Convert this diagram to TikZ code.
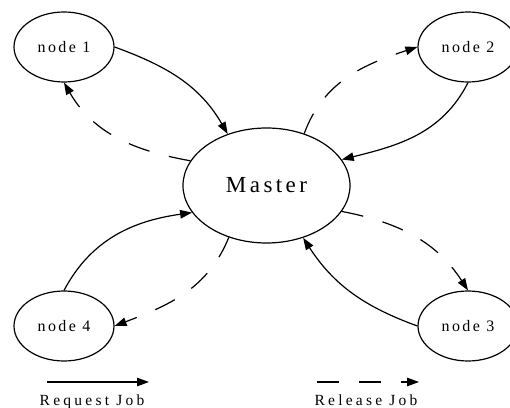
\documentclass[tikz,border=0pt]{standalone}
\usepackage{fontspec}
\setmainfont{Liberation Serif}[LetterSpace=15]
\usepackage{tikz}
\usetikzlibrary{arrows.meta, positioning, shapes.geometric}

\begin{document}
\begin{tikzpicture}[
    x=1pt, y=1pt,
    simpul/.style={draw, ellipse, line width=1.2pt, inner sep=0pt,
                   minimum width=100pt, minimum height=70pt, font=\fontsize{16}{18}\selectfont},
    induk/.style={simpul, minimum width=167pt, minimum height=115pt,
                  font=\fontsize{23}{26}\selectfont},
    minta/.style={-{Triangle[length=12pt, width=8.5pt]}, line width=1.2pt},
    lepas/.style={minta, dash pattern=on 22pt off 20pt},
    ket/.style={anchor=base, font=\fontsize{15.5}{17}\selectfont\addfontfeature{LetterSpace=21}}
  ]
    \useasboundingbox (0,0) rectangle (510,407);

    \node[induk] (master) at (266.5,221.5) {Master};
    \node[simpul] (node1) at (64,360) {node 1};
    \node[simpul] (node2) at (468,360) {node 2};
    \node[simpul] (node3) at (468,81) {node 3};
    \node[simpul] (node4) at (64,81) {node 4};

    \draw[minta] (node1.east) to[out=-20, in=120] (master.127);
    \draw[lepas] (master.162) to[out=170, in=-60] (node1.south);
    \draw[minta] (node2.south) to[out=-117, in=14] (master.19);
    \draw[lepas] (master.54) to[out=70, in=198] (node2.west);
    \draw[lepas] (master.-19) to[out=-11, in=123] (node3.north);
    \draw[minta] (node3.west) to[out=160, in=-57] (master.-55);
    \draw[minta] (node4.north) to[out=62, in=188] (master.200);
    \draw[lepas] (master.234) to[out=248, in=21] (node4.east);

    % keterangan
    \coordinate (mintaA) at (47,25);
    \coordinate (mintaB) at (149,25);
    \coordinate (lepasA) at (317,25);
    \coordinate (lepasB) at (419,25);
    \draw[minta] (mintaA) -- (mintaB);
    \draw[lepas] (lepasA) -- (lepasB);
    \node[ket] (labelminta) at (92,2) {Request Job};
    \node[ket] (labellepas) at (366,2) {Release Job};
  \end{tikzpicture}
\end{document}
